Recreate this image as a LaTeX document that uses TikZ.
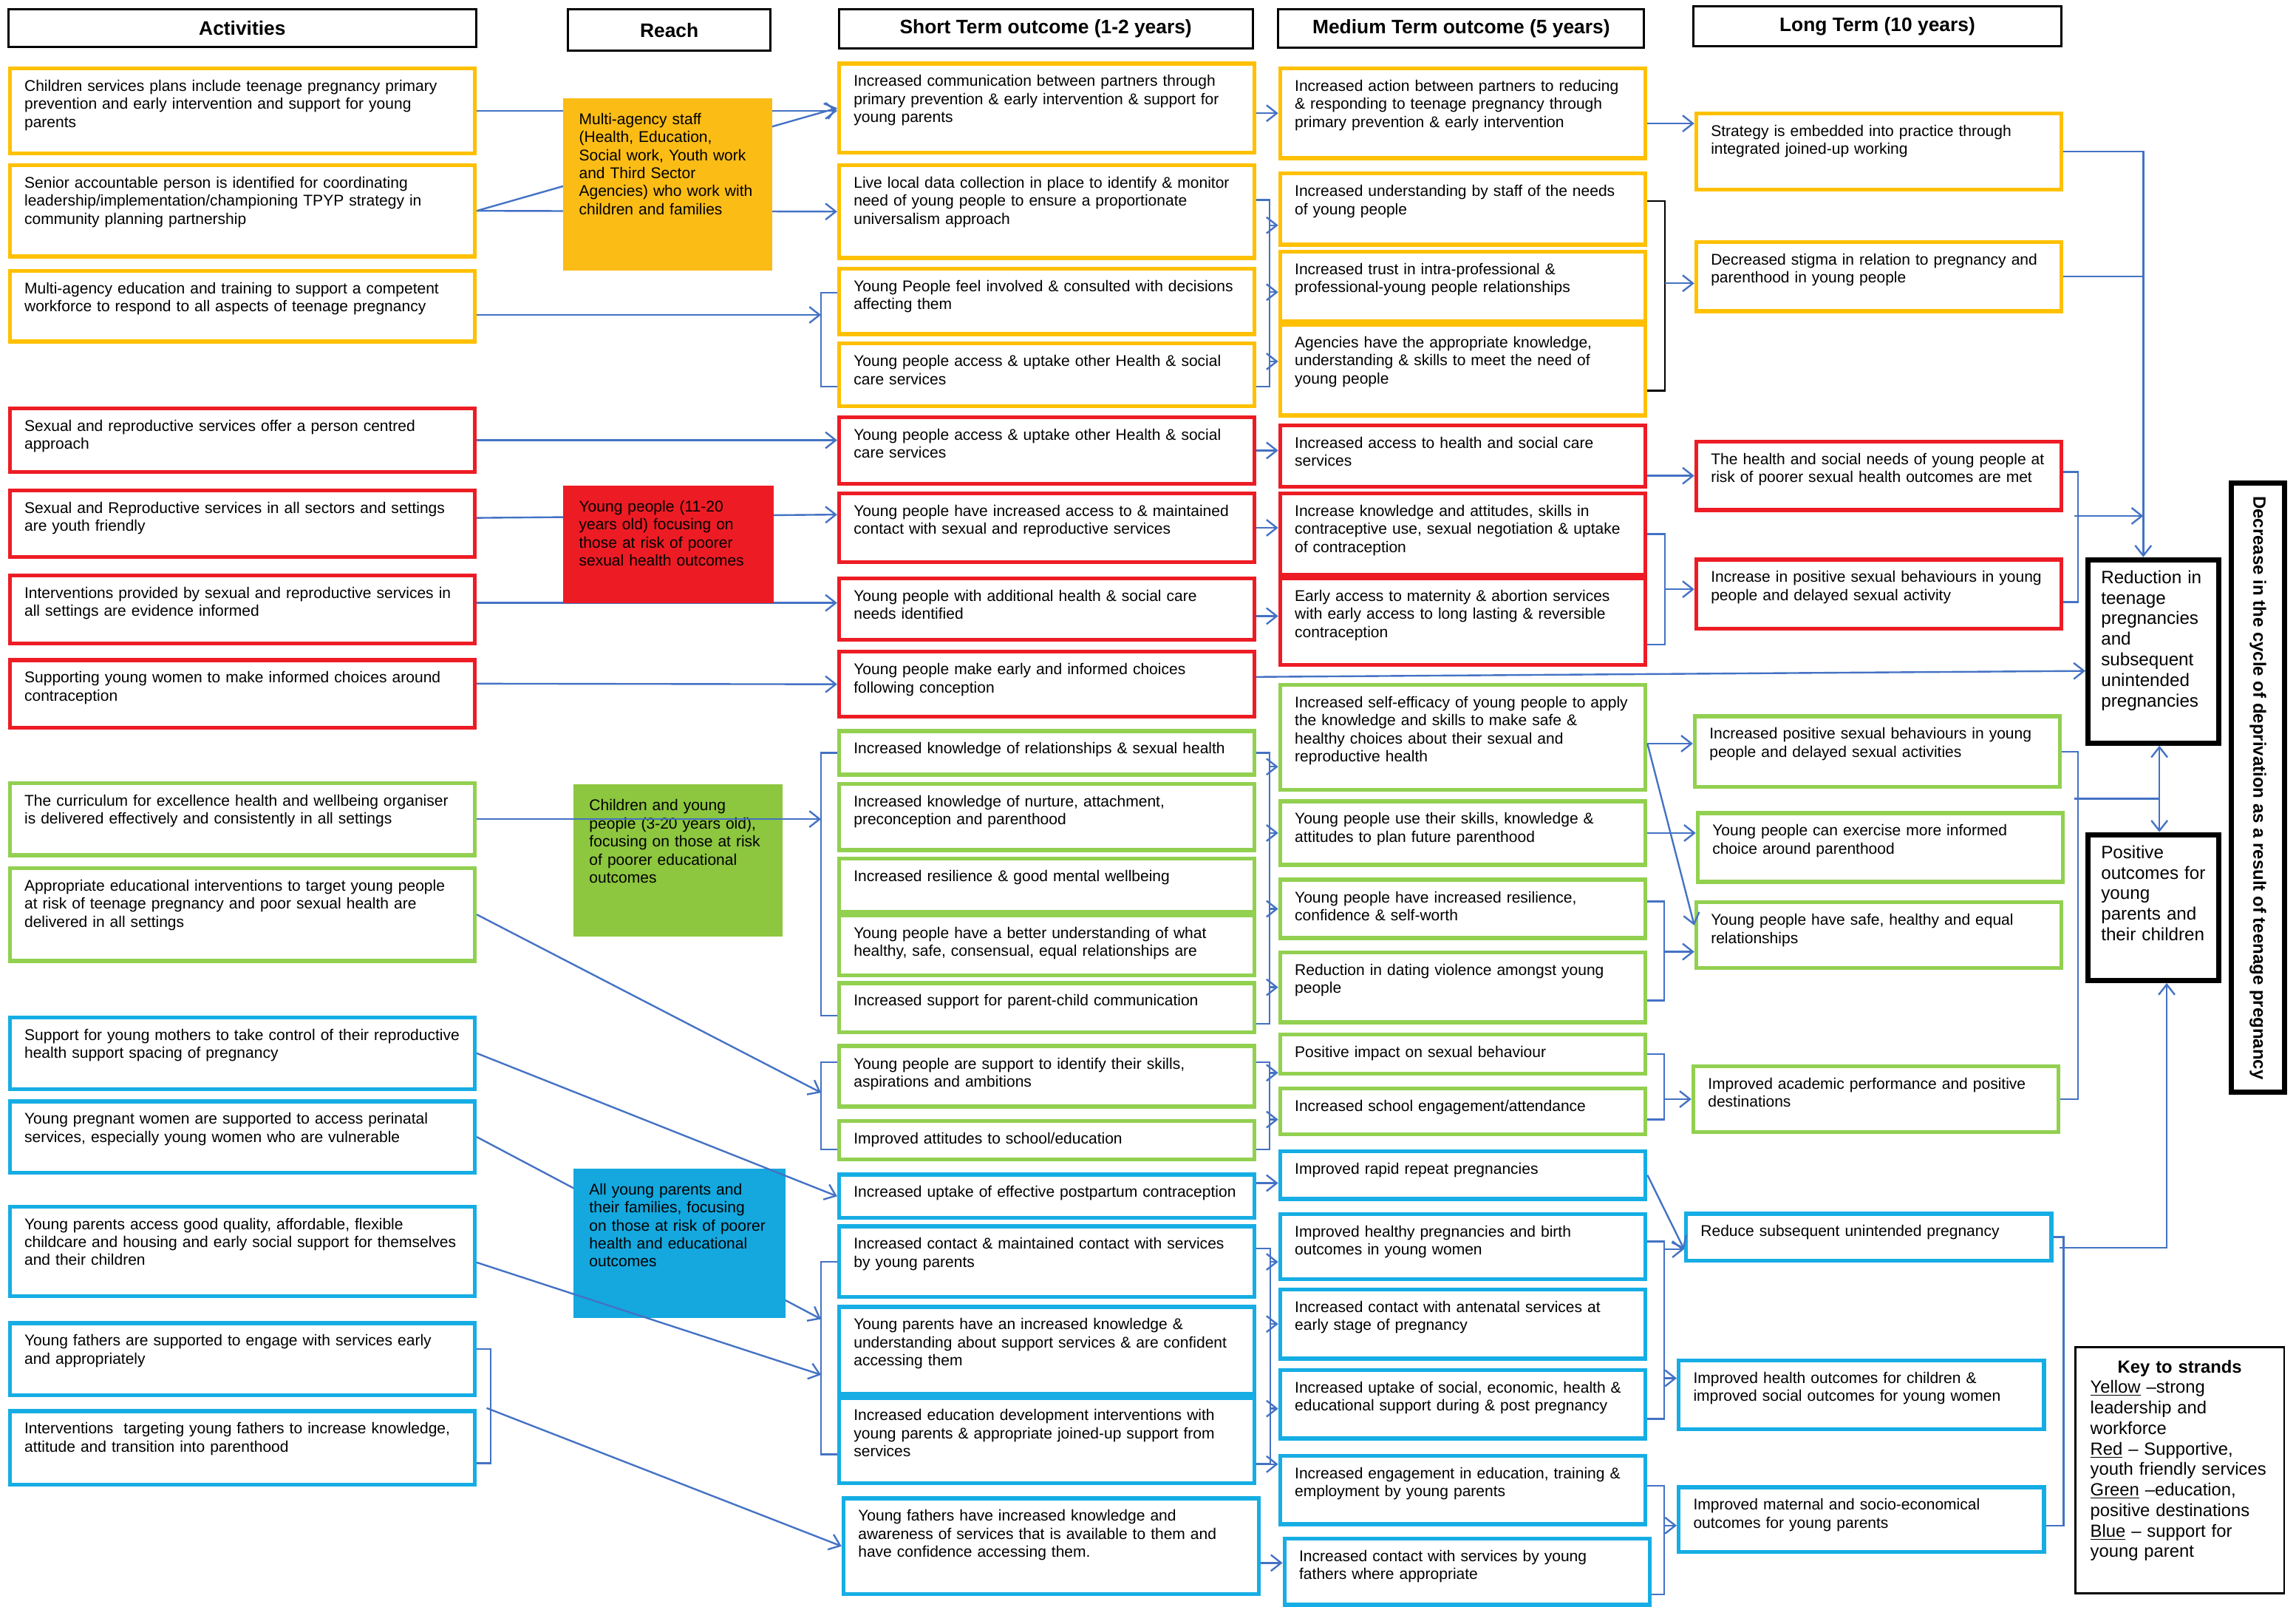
\documentclass[tikz,border=0pt]{standalone}
\usepackage{fontspec}
\setmainfont{Liberation Sans}
\usepackage{tikz}
\usetikzlibrary{arrows.meta}

\definecolor{yel}{RGB}{255,192,0}
\definecolor{yelfill}{RGB}{251,188,22}
\definecolor{rd}{RGB}{237,28,36}
\definecolor{grn}{RGB}{146,208,80}
\definecolor{grnfill}{RGB}{141,198,63}
\definecolor{blu}{RGB}{22,173,228}
\definecolor{blufill}{RGB}{20,168,222}
\definecolor{lnk}{RGB}{68,114,196}

\tikzset{
    txt/.style={font=\fontsize{10.6}{12.3}\selectfont},
    outbox/.style={txt, draw, fill=white, line width=2.7pt, anchor=north west, xshift=1.35pt, yshift=-1.35pt,
        inner xsep=10pt, inner ysep=7pt, align=left, text height=8.6pt},
    act/.style={outbox, text width=297.3pt},
    sto/.style={outbox, text width=263.3pt},
    mto/.style={outbox, text width=229.3pt},
    lto/.style={outbox, text width=229.3pt},
    reach/.style={txt, anchor=north west, inner xsep=11pt, inner ysep=9.4pt, align=left, text height=8.6pt},
    colhead/.style={draw, line width=1.5pt, anchor=north west, xshift=0.75pt, yshift=-0.75pt, inner sep=0pt,
        font=\fontsize{13.3}{15}\selectfont\bfseries},
    endbox/.style={draw, fill=white, line width=3.5pt, anchor=north west, xshift=1.75pt, yshift=-1.75pt,
        font=\fontsize{12.2}{14}\selectfont, inner xsep=9pt, inner ysep=6.45pt, text width=71.5pt,
        align=left, text height=9.8pt},
    link/.style={lnk, line width=1.2pt},
    arr/.style={link, -{Straight Barb[length=7pt,width=11pt]}},
    twoway/.style={link, {Straight Barb[length=7pt,width=11pt]}-{Straight Barb[length=7pt,width=11pt]}},
}

\begin{document}
\begin{tikzpicture}[x=1pt, y=-1pt]
    \useasboundingbox (0,0) rectangle (1567,1096);
    \fill[white] (0,0) rectangle (1567,1096);

    % Column headers
    \node[colhead, minimum width=319.3pt, minimum height=25.5pt] (h1) at (4.2,5) {Activities};
    \node[colhead, minimum width=138.5pt, minimum height=28.1pt] (h2) at (386,5) {Reach};
    \node[colhead, minimum width=282.5pt, minimum height=26.5pt] (h3) at (571,5) {Short Term outcome (1-2 years)};
    \node[colhead, minimum width=249.5pt, minimum height=26.4pt] (h4) at (871,4.7) {Medium Term outcome (5 years)};
    \node[colhead, minimum width=251.5pt, minimum height=27pt] (h5) at (1154,3) {Long Term (10 years)};

    % Activities
    \node[act, draw=yel, text depth=35.2pt] (a1) at (4,44) {Children services plans include teenage pregnancy primary\\prevention and early intervention and support for young\\parents};
    \node[act, draw=yel, text depth=39.7pt] (a2) at (4,110) {Senior accountable person is identified for coordinating\\leadership/implementation/championing TPYP strategy in\\community planning partnership};
    \node[act, draw=yel, text depth=25.7pt] (a3) at (4,182) {Multi-agency education and training to support a competent\\workforce to respond to all aspects of teenage pregnancy};
    \node[act, draw=rd, text depth=20.7pt] (a4) at (4,276) {Sexual and reproductive services offer a person centred\\approach};
    \node[act, draw=rd, text depth=22.7pt] (a5) at (4,332) {Sexual and Reproductive services in all sectors and settings\\are youth friendly};
    \node[act, draw=rd, text depth=23.7pt] (a6) at (4,390) {Interventions provided by sexual and reproductive services in\\all settings are evidence informed};
    \node[act, draw=rd, text depth=23.7pt] (a7) at (4,447.6) {Supporting young women to make informed choices around\\contraception};
    \node[act, draw=grn, text depth=26.7pt] (a8) at (4,531.5) {The curriculum for excellence health and wellbeing organiser\\is delivered effectively and consistently in all settings};
    \node[act, draw=grn, text depth=40.7pt] (a9) at (4,589.6) {Appropriate educational interventions to target young people\\at risk of teenage pregnancy and poor sexual health are\\delivered in all settings};
    \node[act, draw=blu, text depth=26.2pt] (a10) at (4,691.5) {Support for young mothers to take control of their reproductive\\health support spacing of pregnancy};
    \node[act, draw=blu, text depth=26pt] (a11) at (4,748.7) {Young pregnant women are supported to access perinatal\\services, especially young women who are vulnerable};
    \node[act, draw=blu, text depth=38.7pt] (a12) at (4,820.5) {Young parents access good quality, affordable, flexible\\childcare and housing and early social support for themselves\\and their children};
    \node[act, draw=blu, text depth=26.7pt] (a13) at (4,900) {Young fathers are supported to engage with services early\\and appropriately};
    \node[act, draw=blu, text depth=27.7pt] (a14) at (4,960) {Interventions\ \ targeting young fathers to increase knowledge,\\attitude and transition into parenthood};

    % Short term outcomes
    \node[sto, draw=yel, text depth=38pt] (s1) at (570,40.7) {Increased communication between partners through\\primary prevention \& early intervention \& support for\\young parents};
    \node[sto, draw=yel, text depth=40.7pt] (s2) at (570,110) {Live local data collection in place to identify \& monitor\\need of young people to ensure a proportionate\\universalism approach};
    \node[sto, draw=yel, text depth=22.1pt] (s3) at (570,180.6) {Young People feel involved \& consulted with decisions\\affecting them};
    \node[sto, draw=yel, text depth=20pt] (s4) at (570,231.7) {Young people access \& uptake other Health \& social\\care services};
    \node[sto, draw=rd, text depth=22.7pt] (s5) at (570,282) {Young people access \& uptake other Health \& social\\care services};
    \node[sto, draw=rd, text depth=24.2pt] (s6) at (570,334) {Young people have increased access to \& maintained\\contact with sexual and reproductive services};
    \node[sto, draw=rd, text depth=19.3pt] (s7) at (570,392) {Young people with additional health \& social care\\needs identified};
    \node[sto, draw=rd, text depth=21.7pt] (s8) at (570,442) {Young people make early and informed choices\\following conception};
    \node[sto, draw=grn, text depth=7.2pt] (s9) at (570,496) {Increased knowledge of relationships \& sexual health};
    \node[sto, draw=grn, text depth=22.7pt] (s10) at (570,532) {Increased knowledge of nurture, attachment,\\preconception and parenthood};
    \node[sto, draw=grn, text depth=13.7pt] (s11) at (570,583) {Increased resilience \& good mental wellbeing};
    \node[sto, draw=grn, text depth=18.2pt] (s12) at (570,622) {Young people have a better understanding of what\\healthy, safe, consensual, equal relationships are};
    \node[sto, draw=grn, text depth=11pt] (s13) at (570,668) {Increased support for parent-child communication};
    \node[sto, draw=grn, text depth=18.7pt] (s14) at (570,711) {Young people are support to identify their skills,\\aspirations and ambitions};
    \node[sto, draw=grn, text depth=3.7pt] (s15) at (570,762) {Improved attitudes to school/education};
    \node[sto, draw=blu, text depth=7pt] (s16) at (570,798.7) {Increased uptake of effective postpartum contraception};
    \node[sto, draw=blu, text depth=25.7pt] (s17) at (570,834) {Increased contact \& maintained contact with services\\by young parents};
    \node[sto, draw=blu, text depth=36.7pt] (s18) at (570,889) {Young parents have an increased knowledge \&\\understanding about support services \& are confident\\accessing them};
    \node[sto, draw=blu, text depth=35.7pt] (s19) at (570,951) {Increased education development interventions with\\young parents \& appropriate joined-up support from\\services};
    \node[sto, draw=blu, text depth=42.7pt] (s20) at (573,1019.6) {Young fathers have increased knowledge and\\awareness of services that is available to them and\\have confidence accessing them.};

    % Medium term outcomes
    \node[mto, draw=yel, text depth=38.7pt] (m1) at (871,43.9) {Increased action between partners to reducing\\\& responding to teenage pregnancy through\\primary prevention \& early intervention};
    \node[mto, draw=yel, text depth=26pt] (m2) at (871,115.7) {Increased understanding by staff of the needs\\of young people};
    \node[mto, draw=yel, text depth=24.7pt] (m3) at (871,169) {Increased trust in intra-professional \&\\professional-young people relationships};
    \node[mto, draw=yel, text depth=39.2pt] (m4) at (871,219) {Agencies have the appropriate knowledge,\\understanding \& skills to meet the need of\\young people};
    \node[mto, draw=rd, text depth=19.2pt] (m5) at (871,287.5) {Increased access to health and social care\\services};
    \node[mto, draw=rd, text depth=32.7pt] (m6) at (871,334) {Increase knowledge and attitudes, skills in\\contraceptive use, sexual negotiation \& uptake\\of contraception};
    \node[mto, draw=rd, text depth=36.4pt] (m7) at (871,392) {Early access to maternity \& abortion services\\with early access to long lasting \& reversible\\contraception};
    \node[mto, draw=grn, text depth=49.2pt] (m8) at (871,464.5) {Increased self-efficacy of young people to apply\\the knowledge and skills to make safe \&\\healthy choices about their sexual and\\reproductive health};
    \node[mto, draw=grn, text depth=20.7pt] (m9) at (871,544) {Young people use their skills, knowledge \&\\attitudes to plan future parenthood};
    \node[mto, draw=grn, text depth=17.2pt] (m10) at (871,597.5) {Young people have increased resilience,\\confidence \& self-worth};
    \node[mto, draw=grn, text depth=25.2pt] (m11) at (871,647) {Reduction in dating violence amongst young\\people};
    \node[mto, draw=grn, text depth=4.3pt] (m12) at (871,703) {Positive impact on sexual behaviour};
    \node[mto, draw=grn, text depth=8.7pt] (m13) at (871,740) {Increased school engagement/attendance};
    \node[mto, draw=blu, text depth=10pt] (m14) at (871,782.7) {Improved rapid repeat pregnancies};
    \node[mto, draw=blu, text depth=21.7pt] (m15) at (871,825.6) {Improved healthy pregnancies and birth\\outcomes in young women};
    \node[mto, draw=blu, text depth=24.7pt] (m16) at (871,877) {Increased contact with antenatal services at\\early stage of pregnancy};
    \node[mto, draw=blu, text depth=24.2pt] (m17) at (871,932) {Increased uptake of social, economic, health \&\\educational support during \& post pregnancy};
    \node[mto, draw=blu, text depth=24.2pt] (m18) at (871,990.5) {Increased engagement in education, training \&\\employment by young parents};
    \node[mto, draw=blu, text depth=22.7pt] (m19) at (874,1047) {Increased contact with services by young\\fathers where appropriate};

    % Long term outcomes
    \node[lto, draw=yel, text depth=29.4pt] (l1) at (1155,74.6) {Strategy is embedded into practice through\\integrated joined-up working};
    \node[lto, draw=yel, text depth=24.6pt] (l2) at (1155,162.4) {Decreased stigma in relation to pregnancy and\\parenthood in young people};
    \node[lto, draw=rd, text depth=24.2pt] (l3) at (1155,298.5) {The health and social needs of young people at\\risk of poorer sexual health outcomes are met};
    \node[lto, draw=rd, text depth=24.7pt] (l4) at (1155,379) {Increase in positive sexual behaviours in young\\people and delayed sexual activity};
    \node[lto, draw=grn, text depth=25.7pt] (l5) at (1154,486) {Increased positive sexual behaviours in young\\people and delayed sexual activities};
    \node[lto, draw=grn, text depth=24.4pt] (l6) at (1156,552) {Young people can exercise more informed\\choice around parenthood};
    \node[lto, draw=grn, text depth=22.2pt] (l7) at (1155,613) {Young people have safe, healthy and equal\\relationships};
    \node[lto, draw=grn, text depth=22.5pt] (l8) at (1153,724.7) {Improved academic performance and positive\\destinations};
    \node[lto, draw=blu, text depth=9.3pt] (l9) at (1148,825.4) {Reduce subsequent unintended pregnancy};
    \node[lto, draw=blu, text depth=24.1pt] (l10) at (1143,925.6) {Improved health outcomes for children \&\\improved social outcomes for young women};
    \node[lto, draw=blu, text depth=21.7pt] (l11) at (1143,1012) {Improved maternal and socio-economical\\outcomes for young parents};

    % End results
    \node[endbox, text depth=102.4pt] (end1) at (1421.5,378.4) {Reduction in\\teenage\\pregnancies\\and\\subsequent\\unintended\\pregnancies};
    \node[endbox, text depth=76.8pt] (end2) at (1421.5,566) {Positive\\outcomes for\\young\\parents and\\their children};
    \node[draw, line width=3.5pt, rotate=-90, minimum width=415.5pt, minimum height=36.5pt, inner sep=0pt,
        font=\fontsize{12.1}{14}\selectfont\bfseries] (cyc) at (1541,537.5) {Decrease in the cycle of deprivation as a result of teenage pregnancy};

    % Key
    \node[draw, line width=1.3pt, anchor=north west, xshift=0.65pt, yshift=-0.65pt, font=\fontsize{12}{14}\selectfont,
        inner xsep=10.35pt, inner ysep=7.5pt, text width=122pt, align=left, text height=9.8pt, text depth=142.9pt] (key) at (1415,918)
        {\makebox[122pt]{\bfseries Key to strands}\\
        \underline{Yellow} –strong\\leadership and\\workforce\\
        \underline{Red} – Supportive,\\youth friendly services\\
        \underline{Green} –education,\\positive destinations\\
        \underline{Blue} – support for\\young parent};

    % Links passing behind the reach boxes
    \draw[arr] (a1.east) -- (a1.east -| s1.west);
    \draw[arr] (a2.east) -- (s1.west);
    \draw[arr] (a2.east) -- (s2.west);
    \draw[arr] ([yshift=4pt]a5.east) -- ([yshift=9pt]s6.west);
    \draw[arr] ([yshift=4.5pt]a6.east) -- ([yshift=4.5pt]a6.east -| s7.west);
    \coordinate (j5) at (560.35,900);
    \draw[arr] (a11.east) -- (j5);

    % Reach
    \node[reach, fill=yelfill, text width=121pt, text depth=90.4pt] (r1) at (384,66.7) {Multi-agency staff\\(Health, Education,\\Social work, Youth work\\and Third Sector\\Agencies) who work with\\children and families};
    \node[reach, fill=rd, text width=122pt, text depth=53.1pt] (r2) at (384,331) {Young people (11-20\\years old) focusing on\\those at risk of poorer\\sexual health outcomes};
    \node[reach, fill=grnfill, text width=121pt, text depth=76.6pt] (r3) at (391,535) {Children and young\\people (3-20 years old),\\focusing on those at risk\\of poorer educational\\outcomes};
    \node[reach, fill=blufill, text width=123pt, text depth=74.6pt] (r4) at (391,797) {All young parents and\\their families, focusing\\on those at risk of poorer\\health and educational\\outcomes};

    % Yellow strand
    \draw[link] ([yshift=6pt]s3.west) -- ++(-11,0) coordinate (lb1) |- ([yshift=-8pt]s4.west);
    \draw[arr] ([yshift=-6pt]a3.east) -- ([yshift=-6pt]a3.east -| lb1);
    \draw[arr] (m1.west -| s1.east) -- (m1.west);
    \draw[link] ([yshift=8pt]s2.east) -- ++(9,0) coordinate (rb1) |- ([yshift=-8pt]s4.east);
    \draw[arr] ([yshift=-11pt]m2.west -| rb1) -- ([yshift=-11pt]m2.west);
    \draw[arr] ([yshift=-4pt]m3.west -| rb1) -- ([yshift=-4pt]m3.west);
    \draw[arr] ([yshift=6pt]m4.west -| rb1) -- ([yshift=6pt]m4.west);
    \draw[arr] ([yshift=-7pt]m1.east) -- ([yshift=-7pt]m1.east -| l1.west);
    \draw[black, line width=1.2pt] ([yshift=5.5pt]m2.east) -- ++(12,0) coordinate (kb) |- ([yshift=-14pt]m4.east);
    \draw[arr] ([yshift=-4.6pt]l2.west -| kb) -- ([yshift=-4.6pt]l2.west);
    \coordinate (trk) at ([xshift=-7pt]end1.north);
    \draw[arr] (l1.east) -| (trk);
    \draw[link] (l2.east) -- (l2.east -| trk);

    % Red strand
    \draw[arr] (a4.east) -- (a4.east -| s5.west);
    \draw[arr] ([yshift=7pt]a7.east) -- (s8.west);
    \draw[arr] (s5.east) -- (s5.east -| m5.west);
    \draw[arr] (s6.east) -- (s6.east -| m6.west);
    \draw[arr] ([yshift=-4.7pt]s7.east) -- ([yshift=-4.7pt]s7.east -| m7.west);
    \draw[arr] ([yshift=5pt]s8.east) -- ([yshift=-13.3pt]end1.west);
    \draw[arr] (m5.east |- l3.west) -- (l3.west);
    \draw[link] (m6.east) -- ++(12,0) coordinate (rb4) |- ([yshift=-15.6pt]m7.east);
    \draw[arr] ([yshift=3.3pt]l4.west -| rb4) -- ([yshift=3.3pt]l4.west);
    \draw[link] ([yshift=2.5pt]l3.east) -- ++(10,0) coordinate (rb3) |- ([yshift=-5.5pt]l4.east);
    \coordinate (j3) at (1415.65,352);
    \draw[arr] (j3) -- (j3 -| trk);

    % Green strand
    \draw[link] (s9.west) -- ++(-11,0) coordinate (lb3) |- ([yshift=-5.5pt]s13.west);
    \draw[arr] (a8.east) -- (a8.east -| lb3);
    \draw[link] ([yshift=9.6pt]s14.west) -- ++(-11,0) coordinate (lb4) |- ([yshift=-6.5pt]s15.west);
    \coordinate (j4) at (560.35,745.5);
    \draw[arr] (a9.east) -- (j4);
    \draw[link] (s9.east) -- ++(9,0) coordinate (rb5) |- ([yshift=-11pt]s13.east);
    \draw[arr] ([yshift=-20pt]m8.west -| rb5) -- ([yshift=-20pt]m8.west);
    \draw[arr] (m9.west -| rb5) -- (m9.west);
    \draw[arr] (m10.west -| rb5) -- (m10.west);
    \draw[arr] (m11.west -| rb5) -- (m11.west);
    \draw[link] ([yshift=9.6pt]s14.east) -- ++(9,0) coordinate (rb6) |- ([yshift=-6.5pt]s15.east);
    \draw[arr] ([yshift=-12.8pt]m12.west -| rb6) -- ([yshift=-12.8pt]m12.west);
    \draw[arr] ([yshift=-5.5pt]m13.west -| rb6) -- ([yshift=-5.5pt]m13.west);
    \draw[arr] ([yshift=-4.25pt]m8.east) -- ([yshift=-4.25pt]m8.east -| l5.west);
    \draw[arr] ([yshift=-4.25pt]m8.east) -- ([yshift=6.75pt]l7.west);
    \draw[arr] (m9.east) -- (m9.east -| l6.west);
    \draw[link] ([yshift=5pt]m10.east) -- ++(11.5,0) coordinate (rb7) |- ([yshift=-9pt]m11.east);
    \draw[arr] ([yshift=-11.25pt]l7.west -| rb7) -- ([yshift=-11.25pt]l7.west);
    \draw[link] (m12.east) -- ++(11.5,0) coordinate (rb8) |- ([yshift=-5.5pt]m13.east);
    \draw[arr] (l8.west -| rb8) -- (l8.west);
    \draw[link] (l5.east) -- ++(11,0) coordinate (rb9) |- (l8.east);
    \coordinate (mid2) at ([xshift=4pt]end1.south);
    \draw[twoway] (mid2) -- (mid2 |- end2.north);
    \coordinate (j9) at (1415.65,545);
    \draw[link] (j9) -- (j9 -| mid2);

    % Blue strand
    \draw[arr] (a10.east) -- (s16.west);
    \draw[link] (s17.west) -- ++(-11,0) coordinate (lb5) |- ([yshift=-9.5pt]s19.west);
    \coordinate (j6) at (560.35,938);
    \draw[arr] ([yshift=-7.5pt]a12.east) -- (j6);
    \draw[link] ([yshift=7pt]a13.east) -- ++(9.5,0) coordinate (rb10) |- ([yshift=-10.5pt]a14.east);
    \coordinate (j7) at (332.15,960.7);
    \draw[arr] (j7) -- (s20.west);
    \draw[arr] ([yshift=9pt]s16.east) -- ([yshift=9pt]s16.east -| m14.west);
    \draw[link] ([yshift=9pt]s17.east) -- ++(9.5,0) coordinate (rb11) |- ([yshift=-16pt]s19.east);
    \draw[arr] ([yshift=-10.5pt]m15.west -| rb11) -- ([yshift=-10.5pt]m15.west);
    \draw[arr] (m16.west -| rb11) -- (m16.west);
    \draw[arr] ([yshift=-3pt]m17.west -| rb11) -- ([yshift=-3pt]m17.west);
    \draw[arr] ([yshift=17.6pt]m18.west -| rb11) -- ([yshift=17.6pt]m18.west);
    \draw[arr] ([yshift=6pt]m19.west -| s20.east) -- ([yshift=6pt]m19.west);
    \draw[arr] (m14.east) -- ([yshift=-8.3pt]l9.west);
    \draw[link] ([yshift=3.5pt]m15.east) -- ++(11.5,0) coordinate (rb12) |- ([yshift=-10pt]m17.east);
    \draw[arr] ([yshift=-8.3pt]l9.west -| rb12) -- ([yshift=-8.3pt]l9.west);
    \draw[arr] ([yshift=11.3pt]l10.west -| rb12) -- ([yshift=11.3pt]l10.west);
    \draw[link] ([yshift=3pt]m18.east) -- ++(11.5,0) coordinate (rb13) |- ([yshift=-15.5pt]m19.east);
    \draw[arr] ([yshift=-4pt]l11.west -| rb13) -- ([yshift=-4pt]l11.west);
    \draw[link] (l9.east) -- ++(7,0) coordinate (rb14) |- ([yshift=-4pt]l11.east);
    \coordinate (j14) at (1405.65,851.4);
    \draw[arr] (j14) -| ([xshift=9pt]end2.south);
\end{tikzpicture}
\end{document}
